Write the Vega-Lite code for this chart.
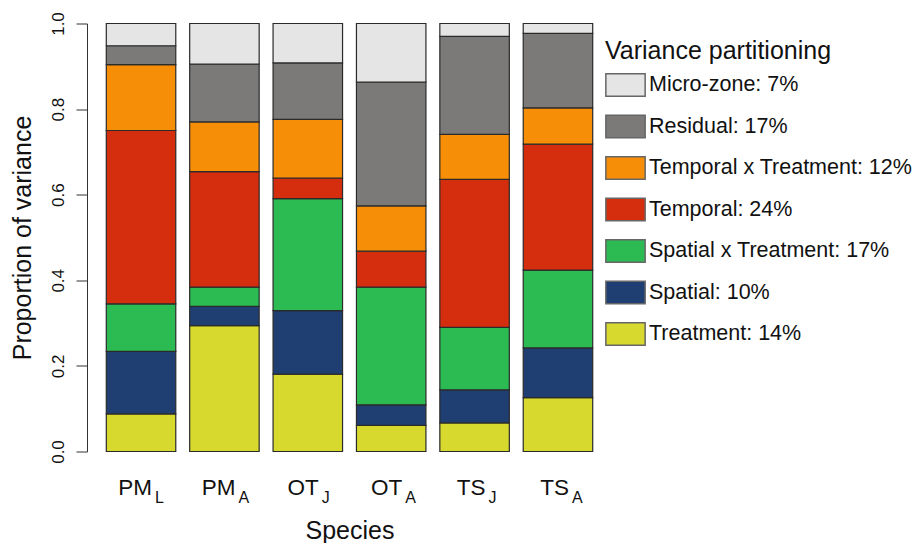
{
  "$schema": "https://vega.github.io/schema/vega-lite/v6.json",
  "width": 525,
  "height": 428,
  "autosize": {"type": "none"},
  "padding": {"left": 87, "top": 23.5, "right": 309, "bottom": 91.5},
  "background": "white",
  "config": {
    "font": "Liberation Sans",
    "view": {"stroke": null}
  },
  "layer": [
    {
      "data": {
        "values": [
          {"species": "PM_L", "component": "Treatment: 14%", "ord": 1, "value": 0.088},
          {"species": "PM_L", "component": "Spatial: 10%", "ord": 2, "value": 0.146},
          {"species": "PM_L", "component": "Spatial x Treatment: 17%", "ord": 3, "value": 0.111},
          {"species": "PM_L", "component": "Temporal: 24%", "ord": 4, "value": 0.405},
          {"species": "PM_L", "component": "Temporal x Treatment: 12%", "ord": 5, "value": 0.154},
          {"species": "PM_L", "component": "Residual: 17%", "ord": 6, "value": 0.044},
          {"species": "PM_L", "component": "Micro-zone: 7%", "ord": 7, "value": 0.052},
          {"species": "PM_A", "component": "Treatment: 14%", "ord": 1, "value": 0.294},
          {"species": "PM_A", "component": "Spatial: 10%", "ord": 2, "value": 0.045},
          {"species": "PM_A", "component": "Spatial x Treatment: 17%", "ord": 3, "value": 0.045},
          {"species": "PM_A", "component": "Temporal: 24%", "ord": 4, "value": 0.270},
          {"species": "PM_A", "component": "Temporal x Treatment: 12%", "ord": 5, "value": 0.116},
          {"species": "PM_A", "component": "Residual: 17%", "ord": 6, "value": 0.135},
          {"species": "PM_A", "component": "Micro-zone: 7%", "ord": 7, "value": 0.095},
          {"species": "OT_J", "component": "Treatment: 14%", "ord": 1, "value": 0.181},
          {"species": "OT_J", "component": "Spatial: 10%", "ord": 2, "value": 0.148},
          {"species": "OT_J", "component": "Spatial x Treatment: 17%", "ord": 3, "value": 0.262},
          {"species": "OT_J", "component": "Temporal: 24%", "ord": 4, "value": 0.048},
          {"species": "OT_J", "component": "Temporal x Treatment: 12%", "ord": 5, "value": 0.137},
          {"species": "OT_J", "component": "Residual: 17%", "ord": 6, "value": 0.132},
          {"species": "OT_J", "component": "Micro-zone: 7%", "ord": 7, "value": 0.092},
          {"species": "OT_A", "component": "Treatment: 14%", "ord": 1, "value": 0.061},
          {"species": "OT_A", "component": "Spatial: 10%", "ord": 2, "value": 0.048},
          {"species": "OT_A", "component": "Spatial x Treatment: 17%", "ord": 3, "value": 0.275},
          {"species": "OT_A", "component": "Temporal: 24%", "ord": 4, "value": 0.084},
          {"species": "OT_A", "component": "Temporal x Treatment: 12%", "ord": 5, "value": 0.106},
          {"species": "OT_A", "component": "Residual: 17%", "ord": 6, "value": 0.289},
          {"species": "OT_A", "component": "Micro-zone: 7%", "ord": 7, "value": 0.137},
          {"species": "TS_J", "component": "Treatment: 14%", "ord": 1, "value": 0.067},
          {"species": "TS_J", "component": "Spatial: 10%", "ord": 2, "value": 0.077},
          {"species": "TS_J", "component": "Spatial x Treatment: 17%", "ord": 3, "value": 0.146},
          {"species": "TS_J", "component": "Temporal: 24%", "ord": 4, "value": 0.346},
          {"species": "TS_J", "component": "Temporal x Treatment: 12%", "ord": 5, "value": 0.105},
          {"species": "TS_J", "component": "Residual: 17%", "ord": 6, "value": 0.229},
          {"species": "TS_J", "component": "Micro-zone: 7%", "ord": 7, "value": 0.030},
          {"species": "TS_A", "component": "Treatment: 14%", "ord": 1, "value": 0.126},
          {"species": "TS_A", "component": "Spatial: 10%", "ord": 2, "value": 0.116},
          {"species": "TS_A", "component": "Spatial x Treatment: 17%", "ord": 3, "value": 0.182},
          {"species": "TS_A", "component": "Temporal: 24%", "ord": 4, "value": 0.294},
          {"species": "TS_A", "component": "Temporal x Treatment: 12%", "ord": 5, "value": 0.085},
          {"species": "TS_A", "component": "Residual: 17%", "ord": 6, "value": 0.174},
          {"species": "TS_A", "component": "Micro-zone: 7%", "ord": 7, "value": 0.023}
        ]
      },
      "mark": {"type": "bar", "stroke": "#2a2a2a", "strokeWidth": 1.2},
      "encoding": {
        "x": {
          "field": "species",
          "type": "nominal",
          "sort": ["PM_L", "PM_A", "OT_J", "OT_A", "TS_J", "TS_A"],
          "scale": {"paddingInner": 0.1667, "paddingOuter": 0.2314},
          "axis": {
            "title": "Species",
            "titleFontSize": 25,
            "titleFontWeight": "normal",
            "titleColor": "#111",
            "titleBaseline": "alphabetic",
            "titleY": 86.8,
            "domain": false,
            "ticks": false,
            "tickSize": 0,
            "labelAngle": 0,
            "labelFontSize": 22.5,
            "labelColor": "#111",
            "labelAlign": "right",
            "labelBaseline": "alphabetic",
            "labelOffset": 11,
            "labelPadding": 42.5,
            "labelExpr": "split(datum.value, '_')[0]"
          }
        },
        "y": {
          "field": "value",
          "type": "quantitative",
          "stack": "zero",
          "scale": {"domain": [0, 1], "nice": false, "zero": true},
          "axis": {
            "title": "Proportion of variance",
            "titleFontSize": 25,
            "titleFontWeight": "normal",
            "titleColor": "#111",
            "titleAngle": 270,
            "titleBaseline": "alphabetic",
            "titleX": -57,
            "titleY": 214,
            "values": [0, 0.2, 0.4, 0.6, 0.8, 1.0],
            "format": ".1f",
            "grid": false,
            "domainColor": "#333",
            "domainWidth": 1,
            "tickColor": "#333",
            "tickWidth": 1,
            "tickSize": 11,
            "labelAngle": 270,
            "labelAlign": "center",
            "labelBaseline": "alphabetic",
            "labelPadding": 13,
            "labelFontSize": 17,
            "labelColor": "#111"
          }
        },
        "color": {
          "field": "component",
          "type": "nominal",
          "scale": {
            "domain": ["Micro-zone: 7%", "Residual: 17%", "Temporal x Treatment: 12%", "Temporal: 24%", "Spatial x Treatment: 17%", "Spatial: 10%", "Treatment: 14%"],
            "range": ["#E5E5E5", "#7B7A78", "#F78E07", "#D42E0F", "#2CBB52", "#1F3F72", "#D8D92F"]
          },
          "legend": {
            "title": "Variance partitioning",
            "orient": "none",
            "legendX": 518,
            "legendY": 15,
            "padding": 0,
            "titleFontSize": 25,
            "titleFontWeight": "normal",
            "titleColor": "#111",
            "titleLimit": 400,
            "titlePadding": 1,
            "labelFontSize": 21.5,
            "labelColor": "#111",
            "labelOffset": 3,
            "labelLimit": 400,
            "rowPadding": 6.5,
            "symbolType": "M-1,-0.567L1,-0.567L1,0.567L-1,0.567Z",
            "symbolSize": 1544,
            "symbolStrokeColor": "#666",
            "symbolStrokeWidth": 1.5,
            "symbolOpacity": 1
          }
        },
        "order": {"field": "ord", "type": "quantitative", "sort": "ascending"}
      }
    },
    {
      "data": {
        "values": [
          {"species": "PM_L", "sub": "L"},
          {"species": "PM_A", "sub": "A"},
          {"species": "OT_J", "sub": "J"},
          {"species": "OT_A", "sub": "A"},
          {"species": "TS_J", "sub": "J"},
          {"species": "TS_A", "sub": "A"}
        ]
      },
      "mark": {"type": "text", "align": "left", "baseline": "alphabetic", "dx": 14, "dy": 51.2, "fontSize": 16, "color": "#111"},
      "encoding": {
        "x": {"field": "species", "type": "nominal", "sort": ["PM_L", "PM_A", "OT_J", "OT_A", "TS_J", "TS_A"]},
        "y": {"datum": 0},
        "text": {"field": "sub"}
      }
    }
  ]
}
